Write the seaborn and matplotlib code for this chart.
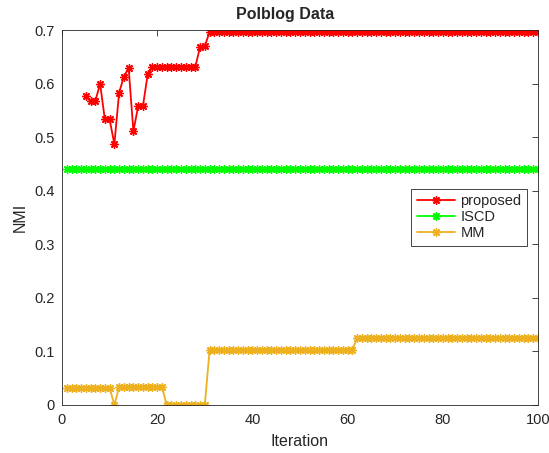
import numpy as np
import pandas as pd
import seaborn as sns
import matplotlib.pyplot as plt

# values
iter_proposed = list(range(5, 101))
nmi_proposed = ([0.577, 0.567, 0.567, 0.600, 0.533, 0.533, 0.487, 0.583, 0.613,
                 0.629, 0.511, 0.558, 0.558, 0.617]
                + [0.631] * 10          # iterations 19-28
                + [0.668, 0.670]        # 29, 30
                + [0.696] * 70)         # 31-100

iter_all = list(range(1, 101))
nmi_iscd = [0.441] * 100
nmi_mm = ([0.032] * 10 + [0.0] + [0.034] * 10 + [0.0] * 9
          + [0.102] * 31 + [0.126] * 39)

sns.set_style("white")
plt.rcParams['font.family'] = ['Liberation Sans', 'DejaVu Sans']
axis_grey = '#262626'

fig = plt.figure(figsize=(5.49, 4.53), dpi=100)
ax = fig.add_axes([62 / 549, 1 - 405 / 453, 476 / 549, 375 / 453])

star = (8, 2, 0)
sns.lineplot(x=iter_proposed, y=nmi_proposed, ax=ax, color='#ff0000', marker=star,
             markersize=6, markeredgecolor='#ff0000', markeredgewidth=1,
             linewidth=1.3, label='proposed')
sns.lineplot(x=iter_all, y=nmi_iscd, ax=ax, color='#00ff00', marker=star,
             markersize=6, markeredgecolor='#00ff00', markeredgewidth=1,
             linewidth=1.3, label='ISCD')
sns.lineplot(x=iter_all, y=nmi_mm, ax=ax, color='#edb120', marker=star,
             markersize=6, markeredgecolor='#edb120', markeredgewidth=1,
             linewidth=1.3, label='MM')

ax.set_xlim(0, 100)
ax.set_ylim(0, 0.7)
ax.set_xticks([0, 20, 40, 60, 80, 100])
ax.set_yticks(np.arange(0, 0.71, 0.1))
ax.set_yticklabels(['0', '0.1', '0.2', '0.3', '0.4', '0.5', '0.6', '0.7'])
ax.tick_params(direction='in', length=4, width=0.6, top=True, right=True,
               labelsize=10.5, colors=axis_grey)
ax.tick_params(axis='x', pad=6)
ax.tick_params(axis='y', pad=5)
for s in ax.spines.values():
    s.set_color(axis_grey)
    s.set_linewidth(0.6)

ax.set_title('Polblog Data', fontsize=11.5, fontweight='bold', pad=8,
             x=0.468)
ax.set_xlabel('Iteration', fontsize=11.5, color=axis_grey, labelpad=5)
ax.set_ylabel('NMI', fontsize=11.5, color=axis_grey, labelpad=5)

leg = ax.legend(loc='upper right', bbox_to_anchor=(0.976, 0.576), fontsize=10.5,
                handlelength=2.6, fancybox=False, framealpha=1,
                edgecolor=axis_grey, borderpad=0.35, labelspacing=0.15,
                handletextpad=0.4, borderaxespad=0)
leg.get_frame().set_linewidth(0.6)

fig.savefig('out.png', dpi=100)
